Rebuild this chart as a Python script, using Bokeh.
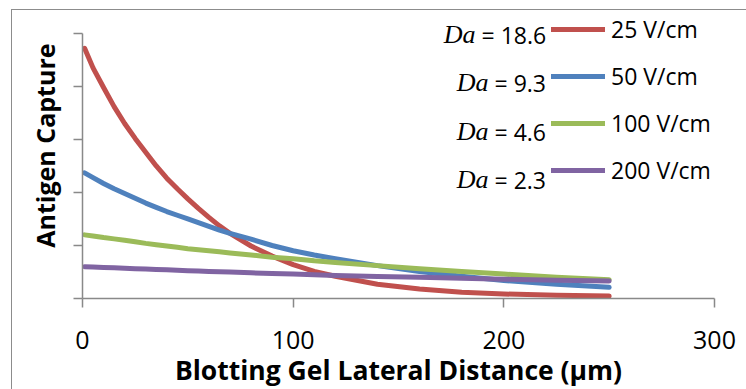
from bokeh.plotting import figure
from bokeh.models import (Range1d, FixedTicker, Legend, LegendItem, Label, Title)
from bokeh.embed import file_html
from bokeh.resources import INLINE

# ---- data ----
distance = [1, 5, 10, 15, 20, 25, 30, 35, 40, 45, 50, 55, 60, 65, 70, 80, 90, 100, 110, 120, 140, 160, 180, 200, 225, 250]
capture_25 = [4.72, 4.35, 3.98, 3.62, 3.30, 3.02, 2.76, 2.50, 2.27, 2.07, 1.88, 1.70, 1.53, 1.37, 1.23, 0.99, 0.80, 0.64, 0.51, 0.42, 0.27, 0.18, 0.12, 0.085, 0.06, 0.045]
capture_50 = [2.37, 2.28, 2.17, 2.07, 1.98, 1.89, 1.80, 1.72, 1.64, 1.57, 1.50, 1.43, 1.36, 1.29, 1.23, 1.12, 1.00, 0.90, 0.82, 0.75, 0.62, 0.51, 0.42, 0.34, 0.27, 0.21]
capture_100 = [1.20, 1.18, 1.15, 1.125, 1.10, 1.07, 1.04, 1.015, 0.99, 0.965, 0.94, 0.92, 0.90, 0.88, 0.86, 0.82, 0.78, 0.75, 0.71, 0.68, 0.62, 0.56, 0.51, 0.46, 0.40, 0.355]
capture_200 = [0.60, 0.593, 0.585, 0.578, 0.57, 0.563, 0.555, 0.548, 0.54, 0.533, 0.525, 0.518, 0.51, 0.505, 0.50, 0.485, 0.47, 0.46, 0.45, 0.435, 0.415, 0.40, 0.38, 0.365, 0.345, 0.33]

series_labels = ["25 V/cm", "50 V/cm", "100 V/cm", "200 V/cm"]
da_values = ["18.6", "9.3", "4.6", "2.3"]
x_ticks = [0, 100, 200, 300]
y_ticks = [0, 1, 2, 3, 4, 5]

colors = ["#C0504D", "#4F81BD", "#9BBB59", "#8064A2"]
FONT = "Open Sans"
TITLE_FONT = "Open Sans"
AXIS_GRAY = "#898989"

OX, OY = 12, 10   # canvas origin inside the bordered box (window pixels)
FRAME_TOP = 11    # window pixel of frame top (y=5 sits at pixel 33)

p = figure(width=746 - OX + 1, height=389 - OY + 1, output_backend="svg", toolbar_location=None,
           x_range=Range1d(0, 300), y_range=Range1d(0, 5 + (33 - FRAME_TOP) / 53.2),
           min_border_left=82 - OX, min_border_right=33, min_border_top=FRAME_TOP - OY,
           min_border_bottom=91)
p.margin = (OY - 1, 0, 0, OX - 1)
p.styles = {"border-left": "1px solid #8c8c8c", "border-top": "1px solid #8c8c8c"}
p.background_fill_color = "white"
p.border_fill_color = "white"
p.outline_line_color = None
p.xgrid.visible = False
p.ygrid.visible = False

renderers = []
for ys, c in zip([capture_25, capture_50, capture_100, capture_200], colors):
    r = p.line(distance, ys, line_color=c, line_width=5, line_cap="round", line_join="round")
    renderers.append(r)

# axes
xa = p.xaxis[0]
xa.ticker = FixedTicker(ticks=x_ticks)
xa.minor_tick_line_color = None
xa.major_tick_in = 0
xa.major_tick_out = 9
xa.axis_line_color = AXIS_GRAY
xa.axis_line_width = 1.5
xa.major_tick_line_color = AXIS_GRAY
xa.major_tick_line_width = 1.5
xa.major_label_text_font = FONT
xa.major_label_text_font_size = "25px"
xa.major_label_text_color = "black"
xa.major_label_standoff = 23
xa.axis_label = "Blotting Gel Lateral Distance (μm)"
xa.axis_label_text_font = TITLE_FONT
xa.axis_label_text_font_style = "bold"
xa.axis_label_text_font_size = "26.5px"
xa.axis_label_text_color = "black"
xa.axis_label_standoff = 0

ya = p.yaxis[0]
ya.ticker = FixedTicker(ticks=y_ticks)
ya.bounds = (0, 5)
ya.minor_tick_line_color = None
ya.major_tick_in = 0
ya.major_tick_out = 9
ya.axis_line_color = AXIS_GRAY
ya.axis_line_width = 1.5
ya.major_tick_line_color = AXIS_GRAY
ya.major_tick_line_width = 1.5
ya.major_label_standoff = 0
ya.major_label_overrides = {t: "" for t in y_ticks}

# y title
p.add_layout(Title(text="Antigen Capture", align="right", vertical_align="middle",
                   offset=43 - FRAME_TOP, standoff=22,
                   text_font=TITLE_FONT, text_font_style="bold", text_font_size="25px",
                   text_color="black"), "left")

# legend
items = [LegendItem(label=lab, renderers=[r]) for lab, r in zip(series_labels, renderers)]
leg = Legend(items=items, location=(469, 112), glyph_width=54, glyph_height=30, label_height=30,
             spacing=15, padding=0, margin=0, label_standoff=6,
             label_text_font=FONT, label_text_font_size="23px", label_text_color="black",
             border_line_alpha=0, background_fill_alpha=0)
p.add_layout(leg)

# Da annotations
eq_x = [480, 493, 493, 493]
base_y = [33, 81, 130, 178]
for dv, ex, by in zip(da_values, eq_x, base_y):
    p.add_layout(Label(x=ex - 6 - OX, y=by - OY, x_units="canvas", y_units="canvas", text="Da",
                       text_align="right", text_baseline="alphabetic",
                       text_font="Liberation Serif", text_font_style="italic",
                       text_font_size="26px", text_color="black"))
    p.add_layout(Label(x=ex - OX, y=by - OY, x_units="canvas", y_units="canvas", text="= " + dv,
                       text_align="left", text_baseline="alphabetic",
                       text_font=FONT, text_font_size="23px", text_color="black"))

open("out.html", "w").write(file_html(p, INLINE))
